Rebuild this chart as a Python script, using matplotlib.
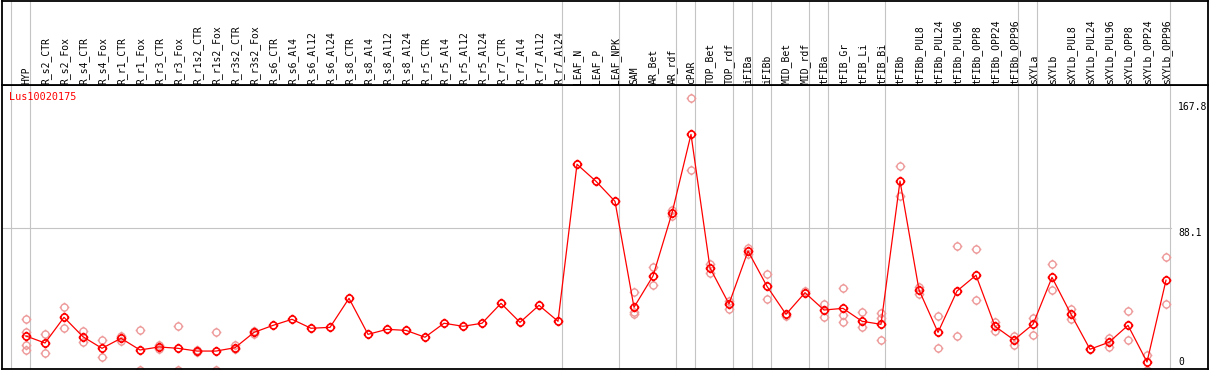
import matplotlib
matplotlib.use("Agg")
import matplotlib.pyplot as plt
from matplotlib.path import Path
import numpy as np

# ---------------- data ----------------
labels = ["HYP", "R_s2_CTR", "R_s2_Fox", "R_s4_CTR", "R_s4_Fox", "R_r1_CTR", "R_r1_Fox",
          "R_r3_CTR", "R_r3_Fox", "R_r1s2_CTR", "R_r1s2_Fox", "R_r3s2_CTR", "R_r3s2_Fox",
          "R_s6_CTR", "R_s6_Al4", "R_s6_Al12", "R_s6_Al24", "R_s8_CTR", "R_s8_Al4",
          "R_s8_Al12", "R_s8_Al24", "R_r5_CTR", "R_r5_Al4", "R_r5_Al12", "R_r5_Al24",
          "R_r7_CTR", "R_r7_Al4", "R_r7_Al12", "R_r7_Al24", "LEAF_N", "LEAF_P", "LEAF_NPK",
          "SAM", "AR_Bet", "AR_rdf", "cPAR", "TOP_Bet", "TOP_rdf", "iFIBa", "iFIBb",
          "MID_Bet", "MID_rdf", "tFIBa", "tFIB_Gr", "tFIB_Li", "tFIB_Bi", "tFIBb",
          "tFIBb_PUL8", "tFIBb_PUL24", "tFIBb_PUL96", "tFIBb_OPP8", "tFIBb_OPP24",
          "tFIBb_OPP96", "sXYLa", "sXYLb", "sXYLb_PUL8", "sXYLb_PUL24", "sXYLb_PUL96",
          "sXYLb_OPP8", "sXYLb_OPP24", "sXYLb_OPP96"]

means = [17.1, 12.5, 29.4, 16.6, 9.0, 15.6, 7.9, 9.9, 9.0, 7.2, 7.2, 9.4, 19.5,
         24.1, 28.1, 22.2, 22.8, 41.9, 18.2, 21.5, 20.8, 16.3, 25.5, 23.5, 25.5,
         38.6, 26.1, 37.3, 26.8, 130.1, 118.9, 105.7, 36.0, 56.6, 98.0, 149.8,
         61.9, 38.2, 73.0, 49.8, 31.4, 45.6, 34.2, 35.3, 26.8, 24.8, 119.1,
         47.4, 19.5, 46.7, 57.1, 23.5, 14.5, 24.8, 55.7, 31.4, 8.4, 13.0, 24.1,
         0.0, 53.8]

# replicate values (index of sample, value)
rep_idx = [0, 0, 0, 0, 1, 1, 2, 2, 3, 3, 4, 4, 5, 5, 6, 6, 7, 7, 8, 8, 9, 9,
           10, 10, 11, 11, 12, 12, 32, 32, 32, 33, 33, 34, 34, 35, 35, 36, 36,
           37, 37, 38, 38, 39, 39, 40, 41, 42, 42, 43, 43, 43, 44, 44, 45, 45, 45,
           46, 46, 47, 47, 48, 48, 49, 49, 50, 50, 51, 51, 52, 52, 53, 53, 54, 54,
           55, 55, 56, 57, 57, 58, 58, 59, 59, 60, 60]
rep_val = [28.1, 19.7, 11.5, 7.7, 18.2, 5.7, 36.2, 22.2, 20.4, 13.4, 14.3, 3.5,
           17.1, 14.0, 20.9, -5.5, 11.0, 8.8, 23.7, -5.5, 7.9, 6.6,
           19.7, -5.5, 11.0, 8.6, 20.4, 18.4, 46.1, 33.1, 31.6, 62.5, 50.5,
           100.2, 96.3, 173.5, 126.1, 64.5, 58.4, 40.3, 35.2, 75.2, 71.1,
           57.7, 41.3, 30.3, 46.5, 38.2, 29.4, 48.5, 30.9, 26.1, 32.7, 23.2,
           32.4, 28.8, 14.3, 128.8, 109.0, 49.2, 44.5, 30.1, 9.0, 76.1, 17.1,
           74.2, 40.8, 26.5, 20.4, 17.1, 11.2, 28.8, 17.8, 64.3, 47.4,
           34.9, 28.1, 8.8, 16.0, 10.1, 33.4, 14.5, 4.6, -5.5, 68.9, 38.0]

group_ends = [-1, 0, 28, 31, 34, 35, 37, 38, 39, 41, 42, 45, 52, 53, 60]
gene = "Lus10020175"
ytick_vals = [167.8, 88.1, 0]

# ---------------- figure ----------------
W, H = 1209, 370
fig = plt.figure(figsize=(W / 100, H / 100), dpi=100)

px0, px1 = 1.5, 1207.5      # plot horizontal extent in pixels
ytop, ybot = 85.0, 368.7    # plot vertical extent (pixels from top)
x_of = lambda px: (px - 26.0) / 19.0
xl = (x_of(px0), x_of(px1))
scale = 255.0 / 167.8
yl = ((362.0 - ybot) / scale, (362.0 - ytop) / scale)

ax = fig.add_axes([px0 / W, (H - ybot) / H, (px1 - px0) / W, (ybot - ytop) / H])
hx = fig.add_axes([px0 / W, (H - ytop) / H, (px1 - px0) / W, (ytop - 0.8) / H])

for a in (ax, hx):
    a.set_xlim(*xl)
    a.set_xticks([])
    a.set_yticks([])
    for s in a.spines.values():
        s.set_linewidth(1.3)
        s.set_color("black")
ax.set_ylim(*yl)
hx.set_ylim(ytop, 0.8)

grey = "#c4c4c4"
for g in group_ends:
    xv = g + 4.4 / 19.0
    ax.axvline(xv, color=grey, lw=0.8, zorder=1)
    hx.axvline(xv, color=grey, lw=0.8, zorder=1)

ax.plot([xl[0], x_of(1171)], [ytick_vals[1]] * 2, color=grey, lw=0.8, zorder=1)

# custom marker: circle with four stubs
circ = Path.unit_circle()
r2 = 1.38
stubs = Path([(0, 1), (0, r2), (0, -1), (0, -r2), (1, 0), (r2, 0), (-1, 0), (-r2, 0)],
             [Path.MOVETO, Path.LINETO] * 4)
mk = Path.make_compound_path(circ, stubs)

ax.plot(rep_idx, rep_val, linestyle="none", marker=mk, markersize=7,
        markerfacecolor="none", markeredgecolor="#ee9a9a", markeredgewidth=1.0, zorder=2)
xs = np.arange(len(labels))
ax.plot(xs, means, color="red", lw=0.9, zorder=3)
ax.plot(xs, means, linestyle="none", marker=mk, markersize=7,
        markerfacecolor="none", markeredgecolor="red", markeredgewidth=1.2, zorder=4)

mono = "DejaVu Sans Mono"
for i, lab in enumerate(labels):
    hx.text(i + 0.03, 83.5, lab, rotation=90, ha="center", va="bottom",
            fontsize=7, family=mono, color="black")

ax.text(x_of(9.3), (362 - 97) / scale, gene, color="red", fontsize=7.3,
        family=mono, ha="left", va="center")

xr = x_of(1178)
ax.text(xr, 167.8, "167.8", fontsize=7, family=mono, ha="left", va="center")
ax.text(xr, (362 - 228.5) / scale, "88.1", fontsize=7, family=mono, ha="left", va="top")
ax.text(xr, 0, "0", fontsize=7, family=mono, ha="left", va="center")

fig.savefig("out.png", dpi=100)
